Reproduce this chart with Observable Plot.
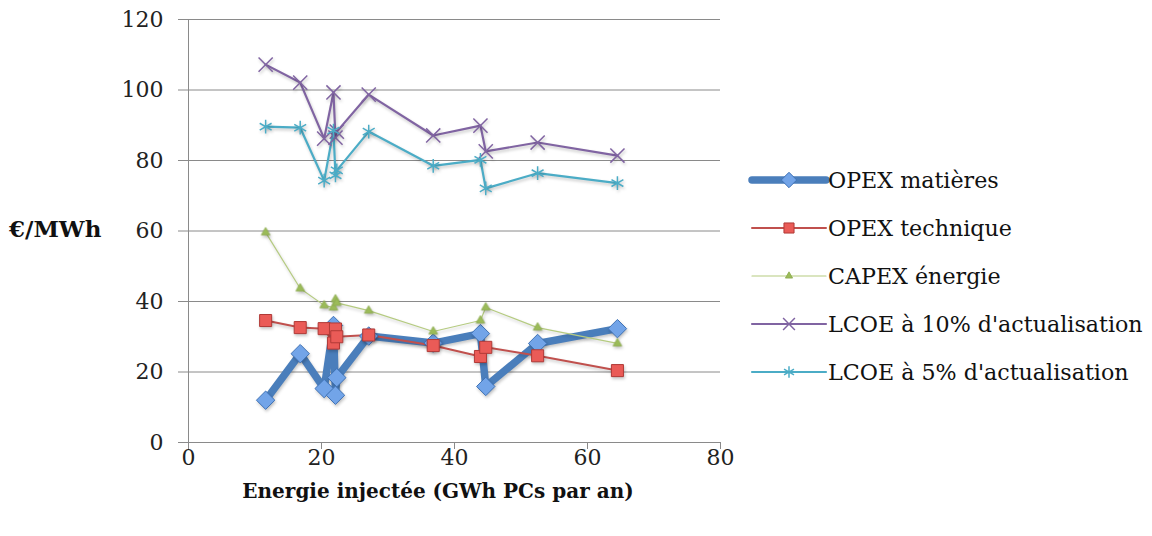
<!DOCTYPE html>
<html><head><meta charset="utf-8">
<script src="https://cdn.jsdelivr.net/npm/d3@7"></script>
<script src="https://cdn.jsdelivr.net/npm/@observablehq/plot@0.6"></script>
<style>
body{margin:0;background:#fff;}
#wrap{position:relative;width:1152px;height:536px;font-family:"DejaVu Serif",serif;color:#111;}
#legend{position:absolute;left:750px;top:156px;}
.item{display:flex;align-items:center;height:48px;font-size:22.2px;white-space:nowrap;}
.item svg{margin-right:2px;overflow:visible;}
#ytitle{position:absolute;left:9px;top:215px;font-weight:bold;font-size:23px;}
#xtitle{position:absolute;left:188px;width:500px;text-align:center;top:479px;font-weight:bold;font-size:20px;}
svg g[aria-label="line"], svg g[aria-label="dot"]{filter:drop-shadow(1px 2px 1.5px rgba(0,0,0,0.22));}
</style></head><body><div id="wrap"><div id="ytitle">€/MWh</div><div id="xtitle">Energie injectée (GWh PCs par an)</div><div id="legend"></div></div>
<script>
// Energie injectée (GWh PCs par an)
const energie      = [11.6, 16.8, 20.4, 21.8, 22.1, 22.3, 27.1, 36.8, 43.9, 44.7, 52.5, 64.5];
const opexMatieres = [12.0, 25.2, 15.3, 33.2, 13.4, 18.4, 30.2, 28.2, 30.9, 15.9, 28.1, 32.3];
const opexTechnique= [34.6, 32.6, 32.3, 28.2, 32.2, 30.0, 30.5, 27.5, 24.4, 27.0, 24.6, 20.4];
const capexEnergie = [59.6, 43.7, 38.9, 38.3, 40.6, 39.6, 37.4, 31.5, 34.6, 38.3, 32.6, 28.1];
const lcoe10       = [107.2, 102.1, 86.2, 99.3, 86.5, 88.2, 98.7, 87.1, 89.9, 82.6, 85.1, 81.4];
const lcoe5        = [89.6, 89.3, 74.3, 88.5, 75.8, 77.2, 88.2, 78.5, 80.2, 72.1, 76.4, 73.6];
const xTicks = [0, 20, 40, 60, 80];
const yTicks = [0, 20, 40, 60, 80, 100, 120];

const series = [
  {name: "OPEX matières", values: opexMatieres, stroke: "#4a7ebb", width: 7.5, symbol: "diamond2", r: 8.3, fill: "#72a4e8", mstroke: "#3f72b5", mwidth: 1},
  {name: "OPEX technique", values: opexTechnique, stroke: "#c0504d", width: 2, symbol: "square", r: 6.8, fill: "#ea5b57", mstroke: "#b03a37", mwidth: 1},
  {name: "CAPEX énergie", values: capexEnergie, stroke: "#b5cb80", width: 1.2, symbol: "triangle", r: 3.2, fill: "#9bbb59", mstroke: "#8aa94b", mwidth: 0.8},
  {name: "LCOE à 10% d'actualisation", values: lcoe10, stroke: "#8064a2", width: 2.2, symbol: "times", r: 6.5, fill: "none", mstroke: "#8064a2", mwidth: 1.5},
  {name: "LCOE à 5% d'actualisation", values: lcoe5, stroke: "#4bacc6", width: 2.2, symbol: "asterisk", r: 6.5, fill: "none", mstroke: "#4bacc6", mwidth: 1.5}
];

const marks = [
  Plot.gridY(yTicks, {stroke: "#8a8a8a", strokeOpacity: 1, strokeWidth: 1}),
  Plot.axisY(yTicks, {tickSize: 10, tickPadding: 15, stroke: "#8a8a8a", fill: "#222", fontSize: 22, label: null}),
  Plot.axisX(xTicks, {tickSize: 7, tickPadding: 0, stroke: "#8a8a8a", fill: "#222", fontSize: 22, label: null}),
  Plot.ruleX([0], {stroke: "#8a8a8a"}),
  Plot.ruleY([0], {stroke: "#8a8a8a"})
];
for (const s of series) {
  const rows = energie.map((x, i) => ({x, y: s.values[i]}));
  marks.push(Plot.line(rows, {x: "x", y: "y", stroke: s.stroke, strokeWidth: s.width, strokeLinejoin: "round", strokeLinecap: "round"}));
}
for (const s of series) {
  const rows = energie.map((x, i) => ({x, y: s.values[i]}));
  marks.push(Plot.dot(rows, {x: "x", y: "y", symbol: () => s.symbol, r: s.r, fill: s.fill, stroke: s.mstroke, strokeWidth: s.mwidth}));
}

const chart = Plot.plot({
  width: 1152, height: 536,
  marginLeft: 188, marginRight: 432, marginTop: 19, marginBottom: 94,
  x: {domain: [0, 80]},
  y: {domain: [0, 120]},
  symbol: {type: "identity"},
  style: {fontFamily: "DejaVu Serif, serif", background: "#fff", overflow: "visible"},
  marks
});
document.getElementById("wrap").prepend(chart);
chart.style.position = "absolute"; chart.style.left = "0"; chart.style.top = "0";

// legend
const legend = d3.select("#legend");
const symMap = {diamond2: d3.symbolDiamond2, square: d3.symbolSquare, triangle: d3.symbolTriangle, times: d3.symbolTimes, asterisk: d3.symbolAsterisk};
for (const s of series) {
  const item = legend.append("div").attr("class", "item");
  const svg = item.append("svg").attr("width", 76).attr("height", 20);
  svg.append("line").attr("x1", 2).attr("x2", 76).attr("y1", 10).attr("y2", 10)
    .attr("stroke", s.stroke).attr("stroke-width", s.width).attr("stroke-linecap", "round");
  svg.append("path").attr("transform", "translate(39,10)")
    .attr("d", d3.symbol(symMap[s.symbol], Math.PI * s.r * s.r * 0.7)())
    .attr("fill", s.fill).attr("stroke", s.mstroke).attr("stroke-width", s.mwidth);
  item.append("span").text(s.name);
}
</script></body></html>
